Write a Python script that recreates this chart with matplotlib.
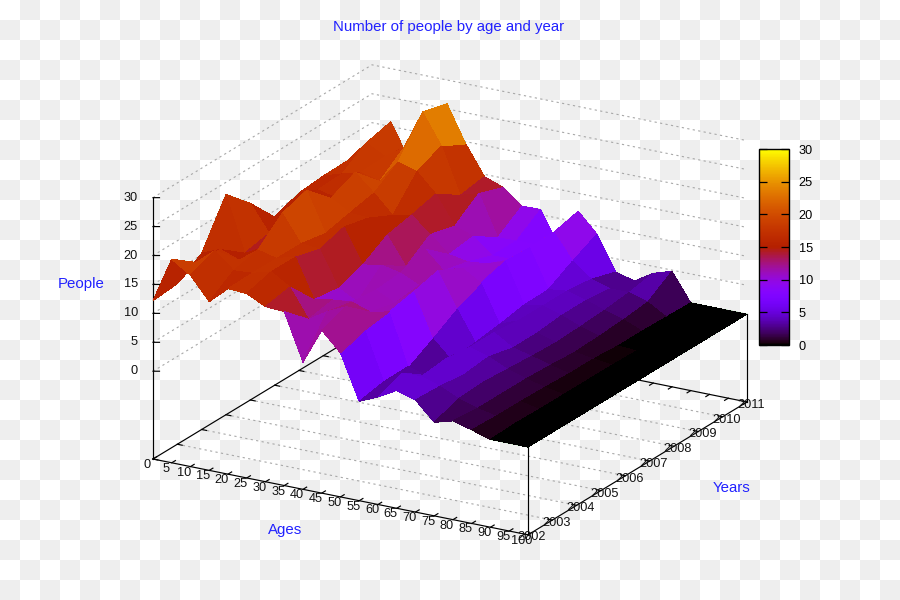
import matplotlib

matplotlib.use("Agg")
import matplotlib.pyplot as plt
import numpy as np
from matplotlib.cm import ScalarMappable
from matplotlib.colors import Normalize
from mpl_toolkits.mplot3d import proj3d

plt.rcParams["font.family"] = ["Liberation Sans", "DejaVu Sans"]

AGES = list(range(0, 101, 5))
YEARS = list(range(2002, 2012))
Z_TICKS = [0, 5, 10, 15, 20, 25, 30]
Z_BASE = -15.17

# people per age band, one list per year
P2002 = [12.2, 20.0, 17.9, 14.0, 16.9, 16.7, 15.1, 14.9, 6.8, 13.0, 9.7, 2.0, 3.4, 5.2, 4.2, 1.0, 1.9, 1.0, 0, 0, 0]
P2003 = [12.6, 16.9, 19.6, 16.8, 17.0, 17.9, 15.9, 11.0, 13.0, 14.5, 11.1, 2.8, 5.0, 5.0, 4.0, 2.5, 1.5, 0.8, 0.2, 0, 0]
P2004 = [15.3, 16.6, 15.4, 17.8, 17.0, 17.9, 11.2, 11.8, 12.1, 11.0, 11.7, 2.9, 2.0, 5.5, 3.5, 2.8, 1.5, 0.8, 0.1, 0, 0]
P2005 = [22.9, 13.4, 15.0, 21.6, 17.0, 16.7, 10.6, 8.9, 11.6, 10.0, 12.6, 5.3, 2.2, 5.0, 4.0, 2.5, 1.5, 0.7, 0.1, 0, 0]
P2006 = [18.8, 14.3, 15.0, 23.0, 16.2, 18.0, 12.1, 12.7, 12.0, 10.5, 13.7, 7.9, 2.6, 5.0, 3.0, 2.2, 1.3, 0.5, 0.1, 0, 0]
P2007 = [13.9, 15.0, 15.0, 19.1, 17.2, 17.0, 14.7, 9.9, 13.6, 10.5, 11.6, 9.7, 3.2, 4.5, 3.0, 2.0, 1.0, 0.5, 0.1, 0, 0]
P2008 = [15.5, 16.7, 15.9, 21.0, 18.1, 14.9, 15.6, 12.9, 10.1, 9.5, 9.8, 10.9, 4.0, 4.5, 3.5, 2.2, 1.2, 0.2, 0, 0, 0]
P2009 = [15.9, 16.9, 17.8, 16.9, 20.9, 19.9, 16.7, 11.8, 10.7, 8.0, 8.0, 10.7, 4.1, 4.5, 3.5, 2.5, 1.5, 0.2, 0, 0, 0]
P2010 = [16.0, 19.7, 18.0, 20.2, 27.0, 21.8, 13.9, 14.9, 7.9, 8.0, 8.0, 10.8, 6.5, 4.0, 3.0, 3.0, 2.0, 0.1, 0, 0, 0]
P2011 = [15.0, 20.8, 14.8, 16.0, 25.9, 19.6, 14.6, 13.4, 10.8, 10.9, 4.8, 11.9, 8.6, 2.7, 1.8, 3.8, 4.8, 0, 0, 0, 0]
PEOPLE = [P2002, P2003, P2004, P2005, P2006, P2007, P2008, P2009, P2010, P2011]

BLUE = "#2222ff"
GRID = "#a8a8a8"
FS = 9.2
TITLE_FS = 10.8


def draw_checker(fig):
    bg = fig.add_axes([0, 0, 1, 1], zorder=-1)
    rows, cols = np.indices((30, 45))
    bg.imshow((rows + cols) % 2, cmap="gray_r", vmin=0, vmax=15, extent=(0, 900, 600, 0),
              interpolation="nearest", aspect="auto")
    bg.set_axis_off()


def place_axes(ax):
    # line the projected box up with the frame corners of the picture
    M = ax.get_proj()
    x0, y0, _ = proj3d.proj_transform(0, 2002, Z_BASE, M)
    x1, _, _ = proj3d.proj_transform(100, 2011, Z_BASE, M)
    scale = (747 - 153) / (x1 - x0)
    side = scale * 0.185
    left = 153 - scale * (x0 + 0.095)
    bottom = 141 - scale * (y0 + 0.095)
    ax.set_position([left / 900, bottom / 600, side / 900, side / 600])


def label_at(ax, x, y, z, text, dx, dy, ha="center"):
    px, py, _ = proj3d.proj_transform(x, y, z, ax.get_proj())
    ax.annotate(text, (px, py), xytext=(dx, dy), textcoords="offset pixels",
                ha=ha, va="center", fontsize=FS, color="#111111", annotation_clip=False)


def draw_frame(ax):
    solid = dict(color="black", lw=0.85, zorder=1)
    dotted = dict(color=GRID, lw=0.8, ls=(0, (2, 3)), zorder=0.5)
    base = Z_BASE
    ax.plot([0, 100], [2002, 2002], [base, base], **solid)
    ax.plot([100, 100], [2002, 2011], [base, base], **solid)
    ax.plot([100, 0], [2011, 2011], [base, base], **solid)
    ax.plot([0, 0], [2011, 2002], [base, base], **solid)
    ax.plot([0, 0], [2002, 2002], [base, 30], **solid)
    ax.plot([100, 100], [2002, 2002], [base, 0], **solid)
    ax.plot([100, 100], [2011, 2011], [base, 0], **solid)
    for z in Z_TICKS:
        ax.plot([0, 0, 100], [2002, 2011, 2011], [z, z, z], **dotted)
        ax.plot([0, 1.3], [2002, 2002.067], [z, z], **solid)
        label_at(ax, 0, 2002, z, str(z), -15, 0, ha="right")
    for year in YEARS[1:-1]:
        ax.plot([0, 100], [year, year], [base, base], **dotted)
    for age in AGES:
        ax.plot([age, age], [2002, 2002.15], [base, base], **solid)
        ax.plot([age, age], [2011, 2010.85], [base, base], **solid)
        label_at(ax, age, 2002, base, str(age), -6, -6)
    for year in YEARS:
        ax.plot([100, 98.7], [year, year], [base, base], **solid)
        ax.plot([0, 1.3], [year, year], [base, base], **solid)
        label_at(ax, 100, year, base, str(year), 4, -2 if year == 2002 else -3)


def draw_surface(ax):
    xx, yy = np.meshgrid(AGES, YEARS)
    zz = np.array(PEOPLE, dtype=float)
    norm = Normalize(0, 30)
    # thin green fringe that only shows along the outline
    ax.plot_wireframe(xx, yy, zz, rstride=1, cstride=1, color="#10c010", lw=0.5, alpha=0.7, zorder=1.5)
    cell = (zz[:-1, :-1] + zz[1:, :-1] + zz[:-1, 1:] + zz[1:, 1:]) / 4
    ax.plot_surface(xx, yy, zz, rstride=1, cstride=1, facecolors=plt.cm.gnuplot(norm(cell)),
                    shade=False, linewidth=0, antialiased=False, zorder=2)


def draw_colorbar(fig):
    cax = fig.add_axes([759 / 900, 255 / 600, 30 / 900, 196 / 600])
    cb = fig.colorbar(ScalarMappable(Normalize(0, 30), plt.cm.gnuplot), cax=cax, ticks=Z_TICKS)
    cax.tick_params(direction="in", left=True, right=True, length=6, width=0.9, labelsize=FS, pad=7)
    cb.outline.set_linewidth(1.0)


def main():
    fig = plt.figure(figsize=(9, 6), dpi=100)
    draw_checker(fig)
    ax = fig.add_axes([0, 0, 1, 1], projection="3d", proj_type="ortho", computed_zorder=False)
    ax.patch.set_visible(False)
    ax.set_axis_off()
    ax.view_init(elev=20.5, azim=-60)
    ax.set_box_aspect((433, 438, 279))
    ax.set_xlim(0, 100, view_margin=0)
    ax.set_ylim(2002, 2011, view_margin=0)
    ax.set_zlim(Z_BASE, 30, view_margin=0)
    place_axes(ax)
    draw_frame(ax)
    draw_surface(ax)
    draw_colorbar(fig)
    fig.text(448.5 / 900, 1 - 27 / 600, "Number of people by age and year", color=BLUE, fontsize=TITLE_FS, ha="center", va="center")
    fig.text(81 / 900, 1 - 284 / 600, "People", color=BLUE, fontsize=TITLE_FS, ha="center", va="center")
    fig.text(285 / 900, 1 - 530 / 600, "Ages", color=BLUE, fontsize=TITLE_FS, ha="center", va="center")
    fig.text(732 / 900, 1 - 488 / 600, "Years", color=BLUE, fontsize=TITLE_FS, ha="center", va="center")
    fig.savefig("out.png", dpi=100)


if __name__ == "__main__":
    main()
